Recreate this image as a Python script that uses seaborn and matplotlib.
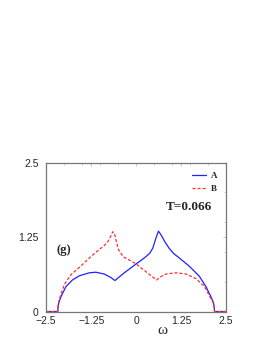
import matplotlib
matplotlib.use("Agg")
import matplotlib.pyplot as plt
import seaborn as sns
import pandas as pd
from matplotlib.ticker import MultipleLocator

# spectral functions
omega_A = [-2.5, -2.18, -2.17, -2.15, -2.09, -1.95, -1.77, -1.58, -1.30, -1.12,
           -0.89, -0.70, -0.59, -0.45, -0.33, -0.15, 0.0, 0.14, 0.27, 0.38, 0.46,
           0.55, 0.62, 0.69, 0.80, 0.92, 1.05, 1.20, 1.48, 1.76, 1.94, 2.08, 2.15,
           2.17, 2.18, 2.5]
rho_A = [0.0, 0.0, 0.08, 0.15, 0.25, 0.42, 0.53, 0.60, 0.65, 0.66,
         0.63, 0.57, 0.52, 0.59, 0.65, 0.73, 0.80, 0.86, 0.92, 0.98, 1.06,
         1.23, 1.35, 1.29, 1.17, 1.06, 0.97, 0.90, 0.76, 0.59, 0.42, 0.25, 0.15,
         0.08, 0.0, 0.0]

omega_B = [-2.5, -2.18, -2.17, -2.14, -2.0, -1.81, -1.58, -1.30, -1.03, -0.90,
           -0.79, -0.70, -0.65, -0.60, -0.56, -0.49, -0.36, -0.18, 0.0, 0.14, 0.27,
           0.46, 0.57, 0.70, 0.83, 1.11, 1.39, 1.67, 1.90, 2.05, 2.14, 2.17, 2.18,
           2.5]
rho_B = [0.0, 0.0, 0.10, 0.20, 0.45, 0.62, 0.74, 0.90, 1.04, 1.10,
         1.17, 1.27, 1.34, 1.30, 1.20, 1.04, 0.92, 0.86, 0.80, 0.73, 0.67,
         0.58, 0.53, 0.59, 0.63, 0.65, 0.63, 0.55, 0.42, 0.25, 0.15, 0.08, 0.0,
         0.0]

xticks = [-2.5, -1.25, 0, 1.25, 2.5]
xticklabels = ["\u22122.5", "\u22121.25", "0", "1.25", "2.5"]
yticks = [0, 1.25, 2.5]
yticklabels = ["0", "1.25", "2.5"]

sns.set_style("white")
plt.rcParams['font.family'] = ['Liberation Sans', 'DejaVu Sans']

df_A = pd.DataFrame({"w": omega_A, "rho": rho_A})
df_B = pd.DataFrame({"w": omega_B, "rho": rho_B})

fig = plt.figure(figsize=(2.72, 3.52), dpi=100)
ax = fig.add_axes([0.170, 0.115, 0.661, 0.423])

sns.lineplot(data=df_A, x="w", y="rho", ax=ax, color="#2020ff", lw=0.9,
             label="A", sort=False)
sns.lineplot(data=df_B, x="w", y="rho", ax=ax, color="#ff3030", lw=0.9,
             linestyle=(0, (2.5, 1.5)), label="B", sort=False)

ax.set_xlim(-2.5, 2.5)
ax.set_ylim(0, 2.5)
ax.set_xticks(xticks)
ax.set_xticklabels(xticklabels)
ax.set_yticks(yticks)
ax.set_yticklabels(yticklabels)
ax.xaxis.set_minor_locator(MultipleLocator(0.5))
ax.yaxis.set_minor_locator(MultipleLocator(0.5))
ax.tick_params(which="both", direction="in", top=True, right=True,
               color="#bbbbbb", labelsize=7.5)
ax.tick_params(axis="x", pad=3)
ax.tick_params(axis="y", pad=5.5)
ax.tick_params(which="major", length=2.5, width=0.6)
ax.tick_params(which="minor", length=1.5, width=0.5)
for s in ax.spines.values():
    s.set_color("#777777")
    s.set_linewidth(0.9)

ax.set_xlabel("")
ax.set_ylabel("")
ax.text(0.644, -0.13, "\u03c9", transform=ax.transAxes, ha="center", va="center",
        fontsize=11, family=["Liberation Serif"])
ax.text(0.794, 0.70, "T=0.066", transform=ax.transAxes, ha="center", va="center",
        fontsize=9.5, fontweight="bold", family=["Liberation Serif"])
ax.text(0.095, 0.414, "(g)", transform=ax.transAxes, ha="center", va="center",
        fontsize=9, fontweight="bold", family=["Liberation Serif"])

leg = ax.legend(loc="upper right", frameon=False, handlelength=1.6,
                handletextpad=0.5, labelspacing=0.55, borderaxespad=0.6,
                prop={"family": "Liberation Serif", "weight": "bold", "size": 6.5})

fig.savefig("out.png", dpi=100)
